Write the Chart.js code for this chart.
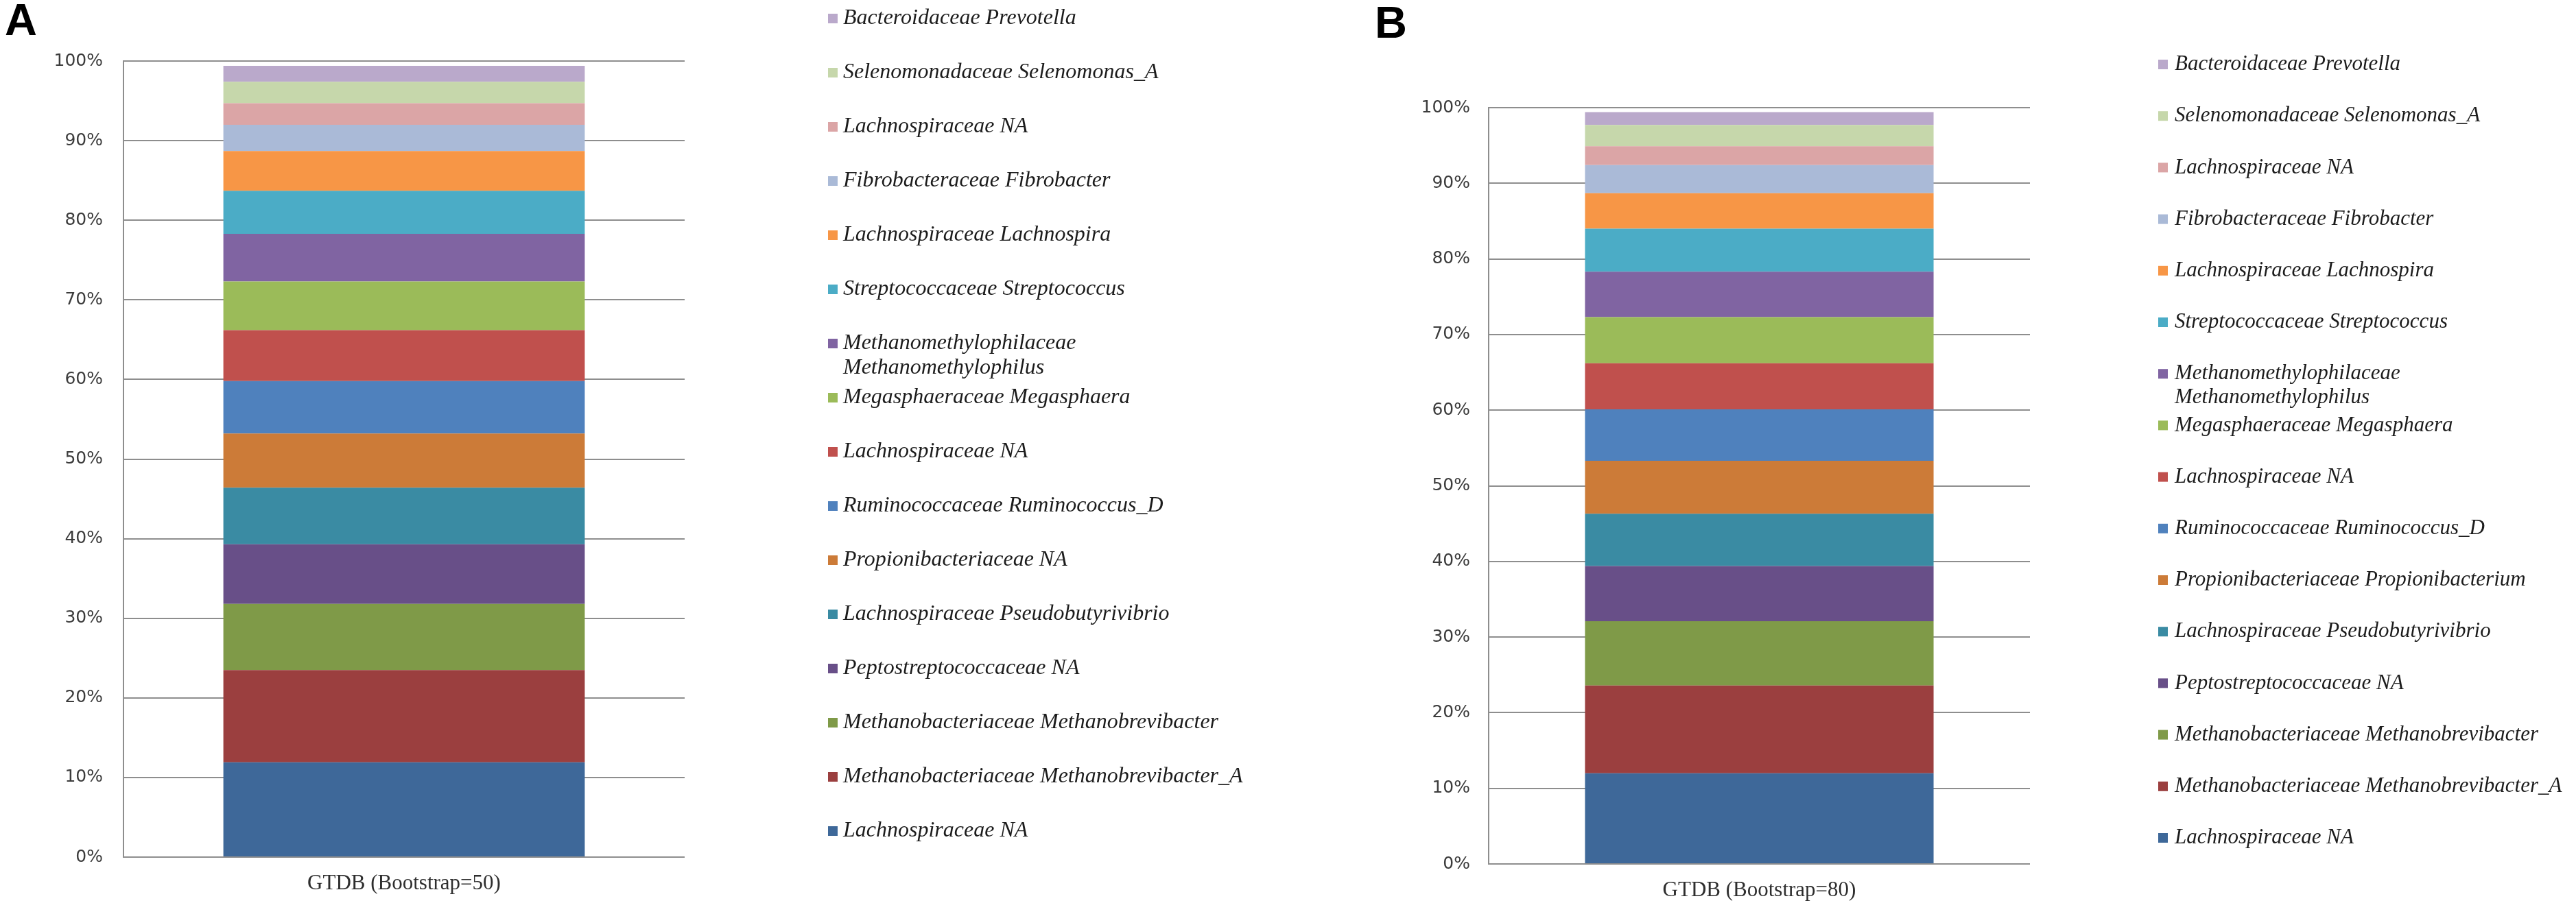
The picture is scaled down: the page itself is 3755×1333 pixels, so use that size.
<!DOCTYPE html>
<html>
<head>
<meta charset="utf-8">
<script src="https://cdn.jsdelivr.net/npm/chart.js@4.4.1/dist/chart.umd.min.js"></script>
<style>
  body { margin: 0; background: #fff; width: 3755px; height: 1333px; overflow: hidden; position: relative; }
  canvas { position: absolute; top: 0; }
  #chartA { left: 0; }
  #chartB { left: 1860px; }
  .panel { position: absolute; font: bold 65px "Liberation Sans", Arial, sans-serif; line-height: 1; color: #000; }
</style>
</head>
<body>
<div class="panel" style="left:7px; top:-4px;">A</div>
<div class="panel" style="left:2004px; top:0px;">B</div>
<canvas id="chartA" width="1860" height="1333"></canvas>
<canvas id="chartB" width="1895" height="1333"></canvas>
<script>
// categories (one bar per panel)
const categoriesA = ['GTDB (Bootstrap=50)'];
const categoriesB = ['GTDB (Bootstrap=80)'];

// taxa, bottom of the stack first
const taxaA = [
    'Lachnospiraceae NA',
    'Methanobacteriaceae Methanobrevibacter_A',
    'Methanobacteriaceae Methanobrevibacter',
    'Peptostreptococcaceae NA',
    'Lachnospiraceae Pseudobutyrivibrio',
    'Propionibacteriaceae NA',
    'Ruminococcaceae Ruminococcus_D',
    'Lachnospiraceae NA',
    'Megasphaeraceae Megasphaera',
    'Methanomethylophilaceae\nMethanomethylophilus',
    'Streptococcaceae Streptococcus',
    'Lachnospiraceae Lachnospira',
    'Fibrobacteraceae Fibrobacter',
    'Lachnospiraceae NA',
    'Selenomonadaceae Selenomonas_A',
    'Bacteroidaceae Prevotella'
];
const taxaB = [
    'Lachnospiraceae NA',
    'Methanobacteriaceae Methanobrevibacter_A',
    'Methanobacteriaceae Methanobrevibacter',
    'Peptostreptococcaceae NA',
    'Lachnospiraceae Pseudobutyrivibrio',
    'Propionibacteriaceae Propionibacterium',
    'Ruminococcaceae Ruminococcus_D',
    'Lachnospiraceae NA',
    'Megasphaeraceae Megasphaera',
    'Methanomethylophilaceae\nMethanomethylophilus',
    'Streptococcaceae Streptococcus',
    'Lachnospiraceae Lachnospira',
    'Fibrobacteraceae Fibrobacter',
    'Lachnospiraceae NA',
    'Selenomonadaceae Selenomonas_A',
    'Bacteroidaceae Prevotella'
];

// relative abundance (%), same order as the taxa
const valuesA = [11.9, 11.6, 8.3, 7.5, 7.1, 6.8, 6.6, 6.4, 6.1, 6.0, 5.4, 5.0, 3.3, 2.7, 2.7, 2.0];
const valuesB = [12.0, 11.6, 8.5, 7.3, 6.9, 7.0, 6.8, 6.1, 6.1, 6.0, 5.7, 4.7, 3.7, 2.5, 2.8, 1.7];

const yTickLabels = ['0%', '10%', '20%', '30%', '40%', '50%', '60%', '70%', '80%', '90%', '100%'];

const palette = [
    '#3e6899', '#9b3f3f', '#7f9a48', '#684f88', '#3a8ba3', '#cc7b38',
    '#4f81bd', '#c0504d', '#9bbb59', '#8064a2', '#4bacc6', '#f79646',
    '#aabad7', '#dba5a6', '#c6d7ab', '#baa9cb'
];

const gridGray = '#8e8e8e';

// legend drawn beside the plot, top entry = top of the stack
const sideLegend = {
    id: 'sideLegend',
    afterDraw(chart, args, opts) {
        const ctx = chart.ctx;
        const sets = chart.data.datasets;
        ctx.save();
        ctx.font = opts.font;
        ctx.textBaseline = 'middle';
        ctx.textAlign = 'left';
        let y = opts.top;
        for (let i = sets.length - 1; i >= 0; i--) {
            ctx.fillStyle = sets[i].backgroundColor;
            ctx.fillRect(opts.x, y - opts.box / 2, opts.box, opts.box);
            ctx.fillStyle = '#1c1c1c';
            sets[i].label.split('\n').forEach(function (line, k) {
                ctx.fillText(line, opts.x + opts.gap, y + k * opts.lineHeight);
            });
            y += opts.step;
        }
        ctx.restore();
    }
};

function makeChart(id, cats, taxa, values, o) {
    const datasets = taxa.map(function (name, i) {
        return {
            label: name,
            data: [values[i]],
            backgroundColor: palette[i],
            borderWidth: 0,
            barPercentage: 0.644,
            categoryPercentage: 1.0
        };
    });

    return new Chart(document.getElementById(id), {
        type: 'bar',
        data: { labels: cats, datasets: datasets },
        plugins: [sideLegend],
        options: {
            responsive: false,
            animation: false,
            devicePixelRatio: 1,
            layout: { padding: { left: 0, top: o.top, right: o.right, bottom: 0 } },
            scales: {
                x: {
                    stacked: true,
                    grid: { display: false, drawTicks: false },
                    border: { display: false },
                    ticks: {
                        padding: 20,
                        color: '#2e2e2e',
                        font: { family: '"Liberation Serif", "Times New Roman", serif', size: 31 }
                    },
                    afterFit: function (s) { s.height = o.xHeight; }
                },
                y: {
                    stacked: true,
                    min: 0,
                    max: 100,
                    grid: { color: gridGray, lineWidth: 2, drawTicks: false },
                    border: { display: true, color: gridGray, width: 2 },
                    ticks: {
                        stepSize: 10,
                        padding: o.tickPad,
                        color: '#3c3c3c',
                        font: { family: '"DejaVu Sans", Verdana, sans-serif', size: 25 },
                        callback: function (v, i) { return yTickLabels[i]; }
                    },
                    afterFit: function (s) { s.width = o.yWidth; }
                }
            },
            plugins: {
                legend: { display: false },
                tooltip: { enabled: false },
                sideLegend: o.legend
            }
        }
    });
}

makeChart('chartA', categoriesA, taxaA, valuesA, {
    top: 89, right: 1860 - 998, xHeight: 1333 - 1250, yWidth: 180, tickPad: 30,
    legend: { x: 1207, gap: 22, box: 14, top: 27, step: 79, lineHeight: 36,
              font: 'italic 32px "Liberation Serif", "Times New Roman", serif' }
});

makeChart('chartB', categoriesB, taxaB, valuesB, {
    top: 157, right: 1895 - 1099, xHeight: 1333 - 1260, yWidth: 310, tickPad: 27,
    legend: { x: 1286, gap: 24, box: 14, top: 94, step: 75.2, lineHeight: 35,
              font: 'italic 31px "Liberation Serif", "Times New Roman", serif' }
});
</script>
</body>
</html>
